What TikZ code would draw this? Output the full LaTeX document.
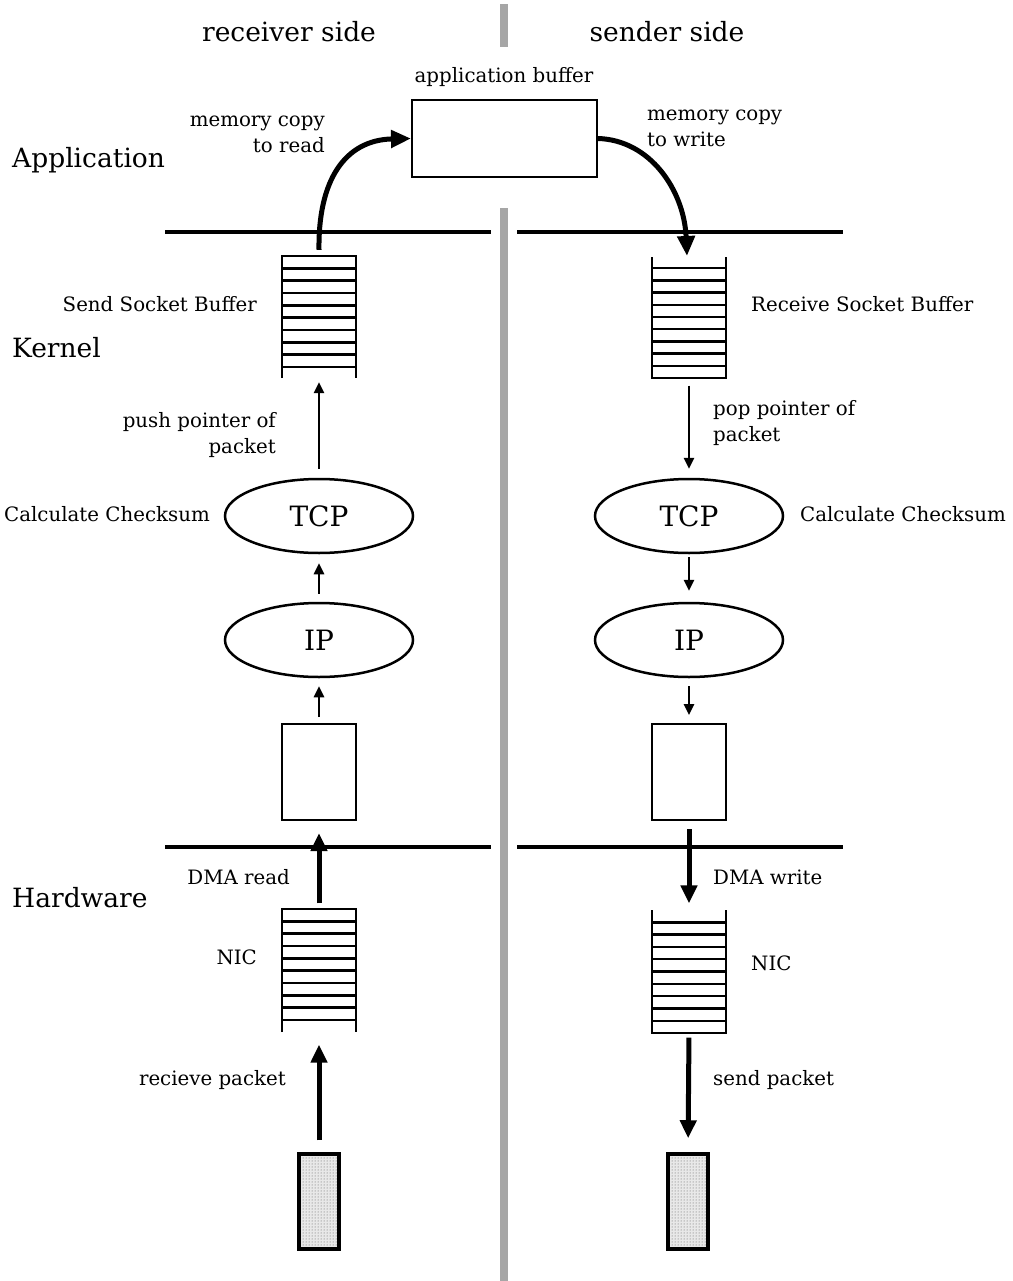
\documentclass[tikz,border=0pt]{standalone}
\usepackage{fontspec}
\setmainfont{DejaVu Serif}
\usetikzlibrary{arrows.meta,shapes.geometric,patterns}
\tikzset{
  lbl/.style={font=\fontsize{19.8}{26}\selectfont, inner sep=0pt, align=left},
  lblr/.style={lbl, align=right},
  big/.style={font=\fontsize{26.5}{30}\selectfont, inner sep=0pt},
  layer/.style={line width=4pt},
  ell/.style={ellipse, draw, line width=2.5pt, minimum width=188pt, minimum height=74pt, inner sep=0pt, font=\fontsize{28}{32}\selectfont},
  pkt/.style={rectangle, draw, line width=2pt, minimum width=74pt, minimum height=96pt, inner sep=0pt},
  stackbox/.style={rectangle, minimum width=74pt, minimum height=122pt, inner sep=0pt},
  stk/.style={line width=2.4pt},
  tharr/.style={line width=2.5pt, -{Triangle[length=11pt,width=10pt]}},
  thkarr/.style={line width=5pt, -{Triangle[length=20pt,width=17pt]}},
  dotbox/.style={rectangle, draw, line width=3.5pt, minimum width=40pt, minimum height=95pt, inner sep=0pt, preaction={fill=gray!18}, pattern=dots, pattern color=gray!70!black},
  divbar/.style={fill=gray!70, draw=none},
}
\begin{document}
\begin{tikzpicture}[x=1pt,y=-1pt]
\useasboundingbox[fill=white] (0,0) rectangle (1012,1281);

% divider
\fill[divbar] (500,4) rectangle (508,47);
\fill[divbar] (500,208) rectangle (508,1281);

% titles
\node[big] (tr) at (289,32) {receiver side};
\node[big] (ts) at (667,32) {sender side};
\node[big, anchor=west] (lapp) at (12,160) {Application};
\node[big, anchor=west] (lker) at (12,348) {Kernel};
\node[big, anchor=west] (lhw) at (12,898) {Hardware};

% layer lines
\draw[layer] (165,232) coordinate (a1) -- (491,232) coordinate (a2);
\draw[layer] (517,232) coordinate (a3) -- (843,232) coordinate (a4);
\draw[layer] (165,847) coordinate (b1) -- (491,847) coordinate (b2);
\draw[layer] (517,847) coordinate (b3) -- (843,847) coordinate (b4);

% application buffer
\node[lbl] (labuf) at (504,77) {application buffer};
\node[rectangle, draw, line width=2pt, minimum width=185pt, minimum height=77pt] (abuf) at (504.5,138.5) {};
\node[lblr, anchor=east] (lmr) at (325,134) {memory copy\\to read};
\node[lbl, anchor=west] (lmw) at (647,128) {memory copy\\to write};

% stacks (invisible anchors)
\node[stackbox] (ssb) at (319,317) {};
\node[stackbox] (rsb) at (689,317.5) {};
\node[stackbox] (nicl) at (319,970.5) {};
\node[stackbox] (nicr) at (689,971.5) {};

% left send socket buffer: closed top, open bottom
\draw[stk] (282,378) -- (282,256) -- (356,256) -- (356,378);
\foreach \i in {1,...,9} \draw[stk] (282,256+\i*12.33) -- (356,256+\i*12.33);
% right receive socket buffer: open top, closed bottom
\draw[stk] (652,257) -- (652,378) -- (726,378) -- (726,257);
\foreach \i in {1,...,9} \draw[stk] (652,378-\i*12.2) -- (726,378-\i*12.2);
% left NIC
\draw[stk] (282,1032) -- (282,909) -- (356,909) -- (356,1032);
\foreach \i in {1,...,9} \draw[stk] (282,909+\i*12.33) -- (356,909+\i*12.33);
% right NIC
\draw[stk] (652,910) -- (652,1033) -- (726,1033) -- (726,910);
\foreach \i in {1,...,9} \draw[stk] (652,1033-\i*12.3) -- (726,1033-\i*12.3);

\node[lblr, anchor=east] (lssb) at (257,304) {Send Socket Buffer};
\node[lbl, anchor=west] (lrsb) at (751,304) {Receive Socket Buffer};

% curved arrows
\draw[thkarr] (ssb.north) ++(0,-6) coordinate (c1) .. controls (318,180) and (345,140) .. (abuf.west);
\draw[thkarr] (abuf.east) .. controls (650,140) and (684,190) .. (687,256);

% TCP / IP
\node[ell] (tcpl) at (319,516) {TCP};
\node[ell] (tcpr) at (689,516) {TCP};
\node[ell] (ipl) at (319,640) {IP};
\node[ell] (ipr) at (689,640) {IP};
\node[lblr, anchor=east] (lcsl) at (210,514) {Calculate Checksum};
\node[lbl, anchor=west] (lcsr) at (800,514) {Calculate Checksum};

\node[lblr, anchor=east] (lpush) at (276,435) {push pointer of\\packet};
\node[lbl, anchor=west] (lpop) at (713,423) {pop pointer of\\packet};

\draw[tharr, shorten <=9pt, shorten >=4pt] (tcpl.north) -- (ssb.south);
\draw[tharr, shorten <=7pt, shorten >=9pt] (rsb.south) -- (tcpr.north);
\draw[tharr, shorten <=8pt, shorten >=9pt] (ipl.north) -- (tcpl.south);
\draw[tharr, shorten <=3pt, shorten >=11pt] (tcpr.south) -- (ipr.north);

% packet boxes
\node[pkt] (pl) at (319,772) {};
\node[pkt] (pr) at (689,772) {};
\draw[tharr, shorten <=6pt, shorten >=8pt] (pl.north) -- (ipl.south);
\draw[tharr, shorten <=8pt, shorten >=8pt] (ipr.south) -- (pr.north);

% DMA
\node[lblr, anchor=east] (ldmar) at (290,877) {DMA read};
\node[lbl, anchor=west] (ldmaw) at (713,877) {DMA write};
\draw[thkarr, -{Triangle[length=18pt,width=16pt]}, shorten <=6pt, shorten >=12pt] (nicl.north) -- (pl.south);
\draw[thkarr, -{Triangle[length=18pt,width=16pt]}, shorten <=8pt, shorten >=7pt] (pr.south) -- (nicr.north);

\node[lblr, anchor=east] (lnicl) at (257,957) {NIC};
\node[lbl, anchor=west] (lnicr) at (751,963) {NIC};

% wire packets
\node[dotbox] (dl) at (319,1201.5) {};
\node[dotbox] (dr) at (688,1201.5) {};
\node[lblr, anchor=east] (lrecv) at (286,1080) {recieve packet};
\node[lbl, anchor=west] (lsend) at (713,1080) {send packet};
\draw[thkarr, -{Triangle[length=18pt,width=16pt]}, shorten <=12pt, shorten >=13pt] (dl.north) -- (nicl.south);
\draw[thkarr, -{Triangle[length=18pt,width=16pt]}, shorten <=5pt, shorten >=14pt] (nicr.south) -- (dr.north);
\end{tikzpicture}
\end{document}
